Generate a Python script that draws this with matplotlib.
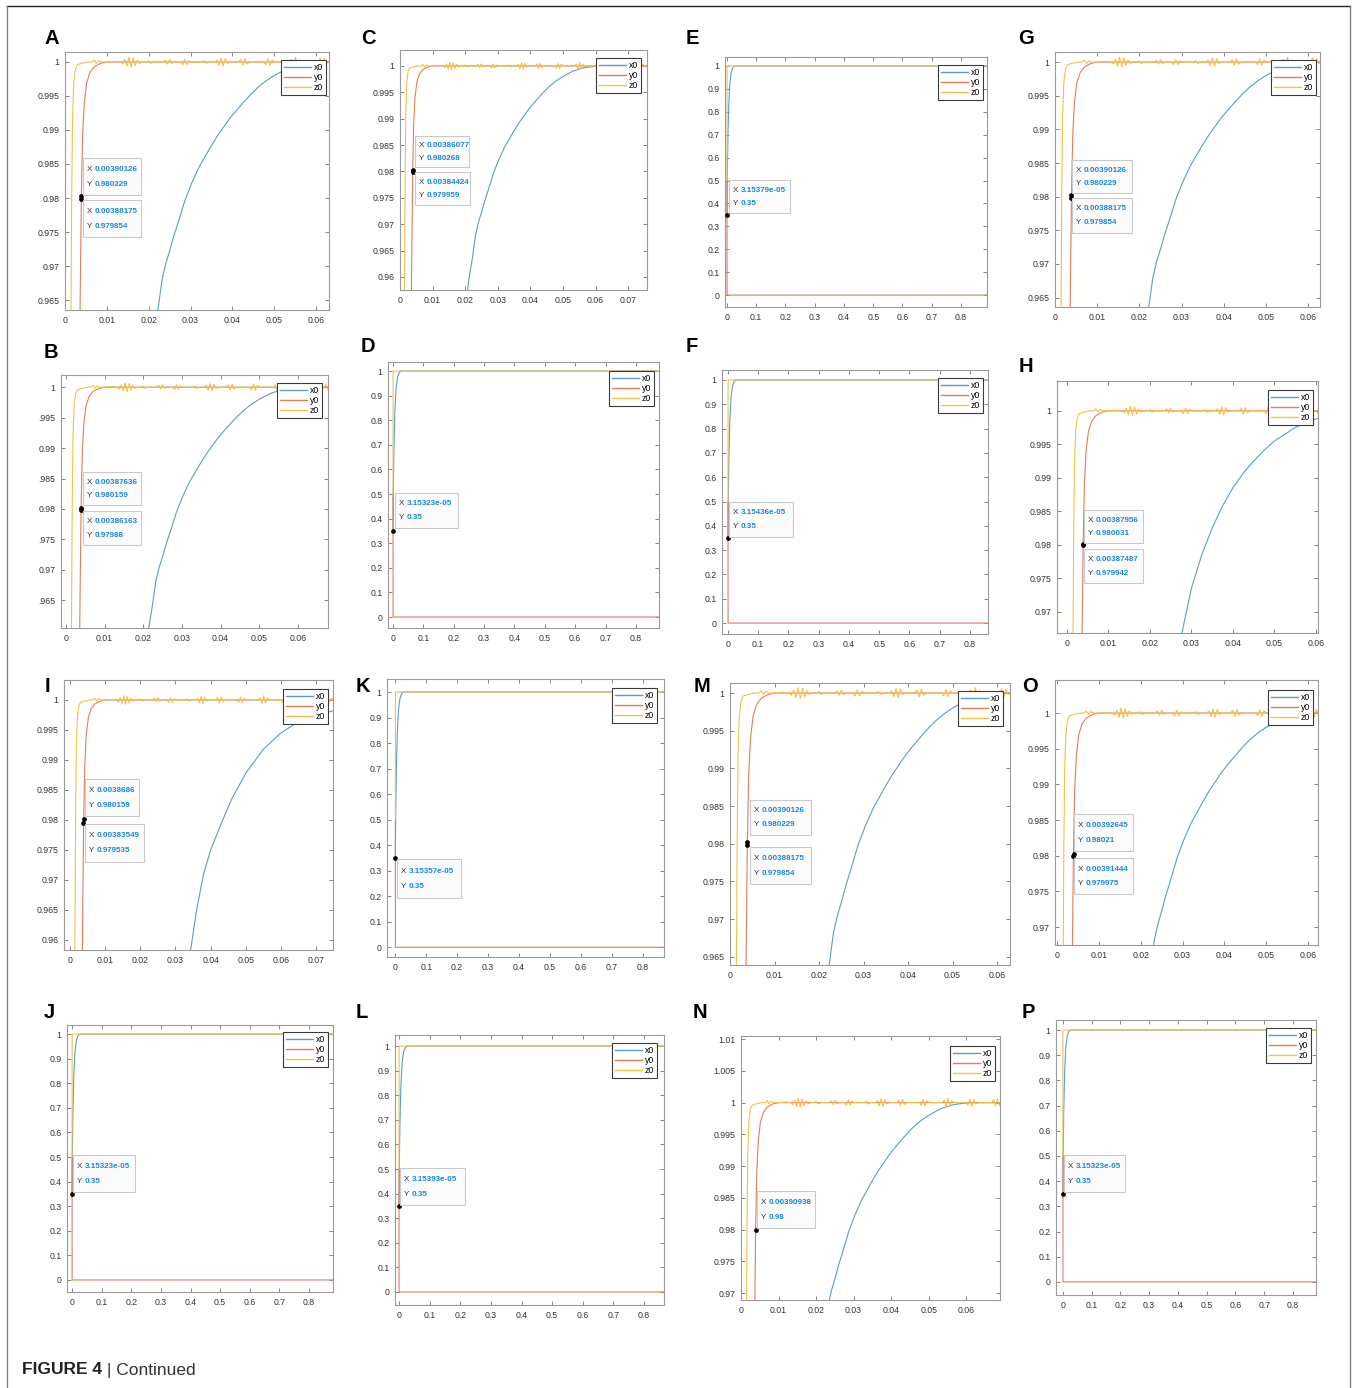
import matplotlib
matplotlib.use('Agg')
import matplotlib.pyplot as plt
import numpy as np
from matplotlib.patches import Rectangle
from matplotlib.lines import Line2D

plt.rcParams['font.family'] = ['Liberation Sans', 'DejaVu Sans']

W, H = 1357, 1388

series_names = ['x0', 'y0', 'z0']
series_colors = ['#5b9cc9', '#e27d5a', '#f0c24c']

# ---- short-time response (t up to 0.08) ----
t_x0_near = [0.0195, 0.0210, 0.0222, 0.0232, 0.0241, 0.0251, 0.0260, 0.0270, 0.0287, 0.0303,
             0.0320, 0.0347, 0.0365, 0.0380, 0.0395, 0.0410, 0.0430, 0.0445, 0.0460, 0.0480,
             0.0500, 0.0515, 0.0530, 0.0545, 0.0560, 0.0580, 0.0610, 0.0800]
x0_near = [0.950, 0.9590, 0.9635, 0.9680, 0.9704, 0.9724, 0.9744, 0.9763, 0.9797, 0.9822,
           0.9845, 0.9874, 0.9892, 0.9905, 0.9918, 0.9929, 0.9943, 0.9953, 0.9962, 0.9972,
           0.9980, 0.9985, 0.9990, 0.9993, 0.9996, 0.9998, 1.0000, 1.0000]

# slower x0 (panel H)
t_x0_mid = [0.0260, 0.0277, 0.0300, 0.0325, 0.0350, 0.0375, 0.0400, 0.0425, 0.0450, 0.0475,
            0.0500, 0.0550, 0.0600, 0.0650, 0.0800]
x0_mid = [0.9600, 0.9668, 0.9735, 0.9785, 0.9825, 0.9858, 0.9885, 0.9907, 0.9925, 0.9941,
          0.9955, 0.9975, 0.9988, 0.9995, 1.0000]

# slowest x0 (panel I)
t_x0_slow = [0.0330, 0.0343, 0.0360, 0.0380, 0.0400, 0.0430, 0.0460, 0.0500, 0.0550, 0.0600,
             0.0650, 0.0700, 0.0750, 0.0800]
x0_slow = [0.9540, 0.9583, 0.9650, 0.9710, 0.9750, 0.9794, 0.9835, 0.9878, 0.9918, 0.9945,
           0.9964, 0.9975, 0.9982, 0.9988]

t_y0_near = [0.0000, 0.0034, 0.0036, 0.0039, 0.0042, 0.0046, 0.0052, 0.0060, 0.0070, 0.0085, 0.0100, 0.0800]
y0_near = [0.900, 0.950, 0.9635, 0.9802, 0.9890, 0.9940, 0.9970, 0.9985, 0.9993, 0.9998, 1.0000, 1.0000]

t_z0_near = [0.0000, 0.0012, 0.0014, 0.0016, 0.0018, 0.0021, 0.0025, 0.0030, 0.0040, 0.0055,
             0.0065, 0.0070, 0.0075, 0.0080, 0.0088, 0.0100, 0.0120,
             0.0133, 0.0138, 0.0143, 0.0148, 0.0153, 0.0158, 0.0163, 0.0168, 0.0173, 0.0178, 0.0186,
             0.0195, 0.0200, 0.0205, 0.0212,
             0.0235, 0.0240, 0.0245, 0.0250, 0.0255, 0.0262,
             0.0276, 0.0281, 0.0286, 0.0291, 0.0296, 0.0303,
             0.0328, 0.0333, 0.0338, 0.0345,
             0.0358, 0.0363, 0.0368, 0.0373, 0.0378, 0.0383, 0.0388, 0.0395,
             0.0415, 0.0420, 0.0425, 0.0430, 0.0435, 0.0442,
             0.0475, 0.0480, 0.0485, 0.0490, 0.0495, 0.0502,
             0.0536, 0.0541, 0.0546, 0.0551, 0.0556, 0.0561, 0.0568,
             0.0600, 0.0605, 0.0610, 0.0615, 0.0620, 0.0625, 0.0632,
             0.0668, 0.0673, 0.0678, 0.0683, 0.0688, 0.0693, 0.0700,
             0.0728, 0.0733, 0.0738, 0.0743, 0.0750, 0.0800]
z0_near = [0.900, 0.930, 0.960, 0.980, 0.992, 0.997, 0.9990, 0.9996, 0.9998, 1.0000,
           1.0000, 1.0003, 0.9998, 1.0002, 1.0000, 1.0000, 1.0001,
           1.0000, 0.9997, 1.0004, 0.9994, 1.0007, 0.9993, 1.0006, 0.9995, 1.0003, 0.9998, 1.0000,
           1.0000, 1.0002, 0.9998, 1.0000,
           1.0000, 1.0003, 0.9997, 1.0004, 0.9998, 1.0000,
           1.0000, 0.9996, 1.0004, 0.9996, 1.0002, 1.0000,
           1.0000, 1.0002, 0.9998, 1.0000,
           1.0000, 1.0003, 0.9995, 1.0006, 0.9994, 1.0005, 0.9998, 1.0000,
           1.0000, 1.0004, 0.9995, 1.0005, 0.9997, 1.0000,
           1.0000, 0.9996, 1.0005, 0.9995, 1.0003, 1.0000,
           1.0000, 1.0004, 0.9994, 1.0007, 0.9995, 1.0003, 1.0000,
           1.0000, 0.9996, 1.0006, 0.9994, 1.0005, 0.9998, 1.0000,
           1.0000, 1.0005, 0.9995, 1.0006, 0.9995, 1.0002, 1.0000,
           1.0000, 1.0003, 0.9997, 1.0003, 1.0000, 1.0000]

# ---- long-time response (t up to 0.9) ----
t_x0_far = [0.0, 0.001, 0.003, 0.006, 0.010, 0.015, 0.020, 0.026, 0.9]
x0_far = [0.35, 0.50, 0.68, 0.83, 0.93, 0.975, 0.993, 1.0, 1.0]
t_y0_far = [0.0, 0.0003, 0.9]
y0_far = [0.5, 0.0, 0.0]
t_z0_far = [0.0, 0.0004, 0.9]
z0_far = [0.5, 1.0, 1.0]

# ---- data tips (X, Y) ----
tips = {
    'A': [(0.00390126, 0.980229), (0.00388175, 0.979854)],
    'C': [(0.00386077, 0.980268), (0.00384424, 0.979959)],
    'E': [(3.15379e-05, 0.35)],
    'G': [(0.00390126, 0.980229), (0.00388175, 0.979854)],
    'B': [(0.00387636, 0.980159), (0.00386163, 0.97988)],
    'D': [(3.15323e-05, 0.35)],
    'F': [(3.15436e-05, 0.35)],
    'H': [(0.00387956, 0.980031), (0.00387487, 0.979942)],
    'I': [(0.0038686, 0.980159), (0.00383549, 0.979535)],
    'K': [(3.15357e-05, 0.35)],
    'M': [(0.00390126, 0.980229), (0.00388175, 0.979854)],
    'O': [(0.00392645, 0.98021), (0.00391444, 0.979975)],
    'J': [(3.15323e-05, 0.35)],
    'L': [(3.15393e-05, 0.35)],
    'N': [(0.00390938, 0.98)],
    'P': [(3.15323e-05, 0.35)],
}

B_ylabels = ['.965', '0.97', '.975', '0.98', '.985', '0.99', '.995', '1']

# panel layout: axes box (l, t, r, b) in px, limits, tick ranges, legend corner, letter, tip boxes
panels = [
    dict(k='A', kind='near', box=(65, 52, 329, 310), xlim=(0, 0.0631), ylim=(0.96353, 1.00147),
         xt=0.06, yt=(0.965, 1.0), leg=(326, 60), lab=(52, 38),
         tb=[(83, 158, 141, 195), (83, 200, 141, 237)]),
    dict(k='C', kind='near', box=(400, 50, 647, 290), xlim=(0, 0.0758), ylim=(0.95751, 1.00303),
         xt=0.07, yt=(0.96, 1.0), leg=(641, 58), lab=(368, 38),
         tb=[(415, 136, 469, 167), (415, 172, 470, 205)]),
    dict(k='E', kind='far', box=(725, 57, 987, 307), xlim=(-0.0068, 0.889), ylim=(-0.052, 1.039),
         leg=(983, 65), lab=(692, 38), tb=[(729, 180, 790, 213)]),
    dict(k='G', kind='near', box=(1055, 52, 1320, 307), xlim=(0, 0.0628), ylim=(0.9636, 1.0015),
         xt=0.06, yt=(0.965, 1.0), leg=(1316, 60), lab=(1026, 38),
         tb=[(1072, 160, 1132, 193), (1072, 198, 1132, 233)]),
    dict(k='B', kind='near', box=(61, 375, 328, 628), xlim=(-0.0013, 0.0678), ylim=(0.96045, 1.0020),
         xt=0.06, yt=(0.965, 1.0), ylabels=B_ylabels, leg=(322, 383), lab=(51, 353),
         tb=[(83, 472, 141, 505), (83, 511, 141, 545)]),
    dict(k='D', kind='far', box=(388, 362, 659, 628), xlim=(-0.0165, 0.876), ylim=(-0.0447, 1.0366),
         leg=(654, 371), lab=(368, 347), tb=[(395, 493, 458, 528)]),
    dict(k='F', kind='far', box=(722, 370, 988, 634), xlim=(-0.0198, 0.8595), ylim=(-0.045, 1.041),
         leg=(983, 378), lab=(692, 347), tb=[(729, 502, 793, 537)]),
    dict(k='H', kind='near', x0='mid', box=(1057, 381, 1318, 633), xlim=(-0.0024, 0.0605),
         ylim=(0.9668, 1.00446), xt=0.06, yt=(0.97, 1.0), leg=(1313, 390), lab=(1026, 367),
         tb=[(1084, 510, 1143, 543), (1084, 549, 1143, 583)]),
    dict(k='I', kind='near', x0='slow', box=(64, 680, 333, 950), xlim=(-0.0017, 0.0748),
         ylim=(0.95833, 1.00333), xt=0.07, yt=(0.96, 1.0), leg=(328, 689), lab=(47, 686),
         tb=[(85, 779, 139, 816), (85, 824, 144, 862)]),
    dict(k='K', kind='far', box=(387, 679, 664, 957), xlim=(-0.027, 0.869), ylim=(-0.038, 1.051),
         leg=(657, 688), lab=(363, 686), tb=[(397, 859, 461, 898)]),
    dict(k='M', kind='near', box=(730, 683, 1010, 965), xlim=(0, 0.0629), ylim=(0.9639, 1.00133),
         xt=0.06, yt=(0.965, 1.0), leg=(1003, 691), lab=(702, 686),
         tb=[(750, 800, 811, 835), (750, 847, 811, 884)]),
    dict(k='O', kind='near', box=(1055, 680, 1318, 945), xlim=(-0.0005, 0.0624), ylim=(0.96748, 1.00463),
         xt=0.06, yt=(0.97, 1.0), leg=(1313, 690), lab=(1030, 686),
         tb=[(1074, 814, 1133, 851), (1074, 858, 1133, 894)]),
    dict(k='J', kind='far', box=(67, 1025, 333, 1292), xlim=(-0.017, 0.881), ylim=(-0.049, 1.037),
         leg=(328, 1032), lab=(49, 1013), tb=[(73, 1155, 135, 1192)]),
    dict(k='L', kind='far', box=(395, 1035, 664, 1305), xlim=(-0.013, 0.865), ylim=(-0.053, 1.045),
         leg=(657, 1043), lab=(362, 1013), tb=[(400, 1168, 465, 1205)]),
    dict(k='N', kind='near', box=(741, 1036, 1000, 1300), xlim=(0, 0.069), ylim=(0.9689, 1.0105),
         xt=0.06, yt=(0.97, 1.01), leg=(995, 1046), lab=(700, 1013),
         tb=[(757, 1191, 815, 1228)]),
    dict(k='P', kind='far', box=(1056, 1020, 1316, 1295), xlim=(-0.024, 0.880), ylim=(-0.052, 1.04),
         leg=(1311, 1028), lab=(1028, 1013), tb=[(1064, 1155, 1125, 1192)]),
]


def fx(x):
    return x / W


def fy(y):
    return 1 - y / H


def tick_fmt(v):
    return f'{round(v, 6):g}'


fig = plt.figure(figsize=(W / 100, H / 100), dpi=100)
fig.patch.set_facecolor('white')
renderer = fig.canvas.get_renderer()

for p in panels:
    l, t, r, b = p['box']
    ax = fig.add_axes([fx(l), fy(b), fx(r - l), (b - t) / H])

    if p['kind'] == 'near':
        x0_sets = {'mid': (t_x0_mid, x0_mid), 'slow': (t_x0_slow, x0_slow)}
        tx, vx = x0_sets.get(p.get('x0'), (t_x0_near, x0_near))
        curves = [(tx, vx), (t_y0_near, y0_near), (t_z0_near, z0_near)]
        xticks = np.round(np.arange(0, p['xt'] + 1e-9, 0.01), 2)
        yticks = np.round(np.arange(p['yt'][0], p['yt'][1] + 1e-9, 0.005), 3)
    else:
        curves = [(t_x0_far, x0_far), (t_y0_far, y0_far), (t_z0_far, z0_far)]
        xticks = np.round(np.arange(0, 0.8 + 1e-9, 0.1), 1)
        yticks = np.round(np.arange(0, 1.0 + 1e-9, 0.1), 1)

    handles = []
    for (tt, vv), name, col in zip(curves, series_names, series_colors):
        h, = ax.plot(tt, vv, color=col, lw=0.8, label=name)
        handles.append(h)

    ax.set_xlim(*p['xlim'])
    ax.set_ylim(*p['ylim'])
    ax.set_xticks(xticks)
    ax.set_yticks(yticks)
    ax.set_xticklabels([tick_fmt(v) for v in xticks])
    ax.set_yticklabels(p.get('ylabels', [tick_fmt(v) for v in yticks]))
    ax.tick_params(direction='in', length=3, width=0.6, top=True, right=True,
                   color='#707070', labelsize=6.3, labelcolor='#333333', pad=4)
    for s in ax.spines.values():
        s.set_color('#9a9a9a')
        s.set_linewidth(0.8)

    # legend box pinned by its upper-right corner
    lx, ly = p['leg']
    leg = ax.legend(handles=handles, loc='upper right', bbox_to_anchor=(fx(lx), fy(ly)),
                    bbox_transform=fig.transFigure, fontsize=6.3, handlelength=3.0,
                    handletextpad=0.35, borderpad=0.35, labelspacing=0.12, borderaxespad=0,
                    fancybox=False, framealpha=1)
    leg.get_frame().set_edgecolor('#3a3a3a')
    leg.get_frame().set_linewidth(0.8)
    for lh in leg.get_lines():
        lh.set_linewidth(1.0)

    # data tips
    for (vx_, vy_), (bl, bt, br, bb) in zip(tips[p['k']], p['tb']):
        ax.plot([vx_], [vy_], 'o', ms=2.4, color='black', zorder=6, clip_on=False)
        fig.add_artist(Rectangle((fx(bl), fy(bb)), fx(br - bl), (bb - bt) / H,
                                 transform=fig.transFigure, facecolor='#fbfbfb',
                                 edgecolor='#c9c9c9', lw=0.8, zorder=7))
        hgt = bb - bt
        for row, (axis_name, val) in enumerate([('X', vx_), ('Y', vy_)]):
            yy = bt + hgt * (0.31 if row == 0 else 0.71)
            fig.text(fx(bl + 3.5), fy(yy), axis_name, fontsize=5.8, color='#333333',
                     va='center', ha='left', zorder=8)
            fig.text(fx(bl + 11.5), fy(yy), f'{val:g}', fontsize=5.8, color='#1787e0',
                     fontweight='bold', va='center', ha='left', zorder=8)

    fig.text(fx(p['lab'][0]), fy(p['lab'][1]), p['k'], fontsize=14.5, fontweight='bold',
             ha='center', va='center', color='black')

# caption
cap = fig.text(fx(22), fy(1370), 'FIGURE 4 ', fontsize=12.5, fontweight='bold',
               color='#222222', ha='left', va='center')
ext = cap.get_window_extent(renderer=renderer)
fig.text(ext.x1 / W, fy(1370), '| Continued', fontsize=12.5, color='#333333',
         ha='left', va='center')

# page frame
fig.add_artist(Line2D([fx(7), fx(1350)], [fy(6), fy(6)], color='#222222', lw=1.0,
                      transform=fig.transFigure))
fig.add_artist(Line2D([fx(7), fx(7)], [fy(6), 0], color='#777777', lw=0.9,
                      transform=fig.transFigure))
fig.add_artist(Line2D([fx(1350), fx(1350)], [fy(6), 0], color='#777777', lw=0.9,
                      transform=fig.transFigure))

fig.savefig('out.png', dpi=100)
